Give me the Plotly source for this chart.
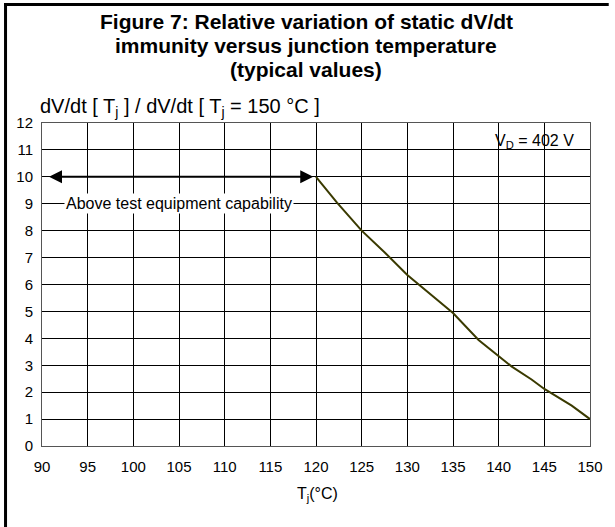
import plotly.graph_objects as go

# Data
tj = [120, 122.3, 125, 127.5, 130, 135, 137.8, 140, 141.4, 143.6, 145, 148, 150]
ratio = [10, 9.04, 8.0, 7.2, 6.35, 4.94, 3.94, 3.35, 2.96, 2.47, 2.12, 1.5, 1.0]
x_ticks = [90, 95, 100, 105, 110, 115, 120, 125, 130, 135, 140, 145, 150]
y_ticks = list(range(0, 13))
arrow_start, arrow_end, arrow_level = 90.6, 119.7, 10
label_x, label_y = 105, 9
title_lines = [
    "Figure 7: Relative variation of static dV/dt",
    "immunity versus junction temperature",
    "(typical values)",
]

FONT = "Liberation Sans, Arial, sans-serif"
W, H = 615, 527
ML, MR, MT, MB = 42, 17, 123, 81
PW, PH = W - ML - MR, H - MT - MB

def px(xp):
    return (xp - ML) / PW

def py(yp):
    return (H - MB - yp) / PH

fig = go.Figure()
fig.add_trace(go.Scatter(x=tj, y=ratio, mode="lines",
                         line=dict(color="#3a3a00", width=2), showlegend=False,
                         hoverinfo="skip"))

fig.update_layout(
    width=W, height=H,
    margin=dict(l=ML, r=MR, t=MT, b=MB),
    paper_bgcolor="white", plot_bgcolor="white",
    font=dict(family=FONT, color="black", size=15),
    xaxis=dict(range=[90, 150], tickvals=x_ticks, ticktext=[str(v) for v in x_ticks],
               showgrid=True, gridcolor="black", gridwidth=1,
               showline=True, linecolor="#555", linewidth=1, mirror=True,
               zeroline=False, ticks="", ticklabelstandoff=7,
               tickfont=dict(size=15)),
    yaxis=dict(range=[0, 12], tickvals=y_ticks,
               showgrid=True, gridcolor="black", gridwidth=1,
               showline=True, linecolor="#555", linewidth=1, mirror=True,
               zeroline=False, ticks="", ticklabelstandoff=5,
               tickfont=dict(size=15)),
    showlegend=False,
)

# Title lines
for i, line in enumerate(title_lines):
    fig.add_annotation(x=px(310), y=py(22 + 23.5 * i), xref="paper", yref="paper",
                       text=f"<b>{line}</b>", showarrow=False,
                       xanchor="center", yanchor="middle",
                       font=dict(size=21))

# Double-headed arrow
fig.add_annotation(x=arrow_end, y=arrow_level, ax=arrow_start, ay=arrow_level,
                   xref="x", yref="y", axref="x", ayref="y", text="",
                   showarrow=True, arrowhead=2, arrowsize=1.3, arrowwidth=2,
                   arrowside="end+start", arrowcolor="black")
fig.add_annotation(x=label_x, y=label_y, xref="x", yref="y",
                   text="Above test equipment capability", showarrow=False,
                   bgcolor="white", font=dict(size=16), borderpad=1)
fig.add_annotation(x=px(584), y=py(141), xref="paper", yref="paper",
                   xanchor="right", yanchor="middle",
                   text="V<sub>D</sub> = 402 V", showarrow=False, font=dict(size=16))
fig.add_annotation(x=px(38), y=py(107), xref="paper", yref="paper",
                   xanchor="left", yanchor="middle",
                   text="dV/dt [ T<sub>j</sub> ] / dV/dt [ T<sub>j</sub> = 150 °C ]",
                   showarrow=False, font=dict(size=20))
fig.add_annotation(x=px(322), y=py(494), xref="paper", yref="paper",
                   xanchor="center", yanchor="middle",
                   text="T<sub>j</sub>(°C)", showarrow=False, font=dict(size=16))

# Outer frame (left and top edges)
fig.add_shape(type="line", xref="paper", yref="paper",
              x0=px(5), x1=px(5), y0=py(3), y1=py(H + 2),
              line=dict(color="black", width=3))
fig.add_shape(type="line", xref="paper", yref="paper",
              x0=px(3.5), x1=px(W + 2), y0=py(4.5), y1=py(4.5),
              line=dict(color="black", width=3))

fig.write_html("out.html", config={"displayModeBar": False},
               post_script="document.body.style.margin='0px';document.body.style.padding='0px';")
